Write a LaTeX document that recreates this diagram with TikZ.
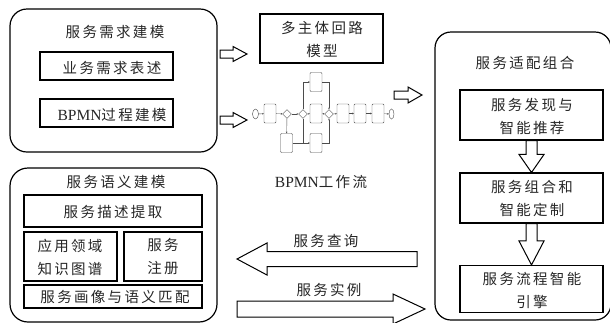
\documentclass[tikz,border=0pt]{standalone}
\usepackage{fontspec}
\setmainfont{Liberation Serif}
\newfontfamily\cjk[LetterSpace=16]{Noto Sans CJK SC}
\usetikzlibrary{calc,shapes.geometric,arrows.meta}
\newcommand\latn[1]{{\rmfamily\fontsize{15.5}{23}\selectfont #1}}
% #1 start, #2 tip, #3 shaft half width, #4 head half width, #5 head length
\newcommand\hollowarrow[5]{%
  \draw[blockarrow] ($(#1)!#3!90:(#2)$)
    -- ($($(#2)!#5!(#1)$)!#3!90:(#2)$)
    -- ($($(#2)!#5!(#1)$)!#4!90:(#2)$)
    -- (#2)
    -- ($($(#2)!#5!(#1)$)!#4!-90:(#2)$)
    -- ($($(#2)!#5!(#1)$)!#3!-90:(#2)$)
    -- ($(#1)!#3!-90:(#2)$) -- cycle;}
\begin{document}
\begin{tikzpicture}[x=1pt,y=-1pt,
  bigbox/.style={draw, rounded corners=17pt, line width=1.2pt, inner sep=0pt},
  inbox/.style={draw, line width=1.1pt, inner sep=0pt},
  lbl/.style={font={\fontsize{14.5}{23}\cjk}, align=center, inner sep=0pt, text=black!85},
  blockarrow/.style={draw, line width=1pt, fill=white, line join=miter},
  task/.style={draw=black!70, line width=0.4pt, rounded corners=1pt, minimum width=12pt, minimum height=19pt, inner sep=0pt},
  gate/.style={draw=black!70, line width=0.4pt, diamond, minimum width=9pt, minimum height=9pt, inner sep=0pt},
  ev/.style={draw=black!70, line width=0.4pt, ellipse, minimum width=6pt, minimum height=10pt, inner sep=0pt},
  flow/.style={draw=black!70, line width=0.4pt, -{Stealth[length=1.6pt,width=1.6pt]}},
  plain/.style={draw=black!70, line width=0.4pt}]
\useasboundingbox (0,0) rectangle (610,322);
\clip (0,0) rectangle (610,322);

% ---------- top-left: service requirement modelling
\node[bigbox, minimum width=207pt, minimum height=143pt] (req) at (113.5,80.5) {};
\node[lbl] (reqt) at (115,32) {服务需求建模};
\node[inbox, minimum width=133pt, minimum height=28pt] (desc) at (106.5,66) {};
\node[lbl] (desct) at (112,68) {业务需求表述};
\node[inbox, minimum width=133pt, minimum height=28pt] (bpmn) at (106.5,113) {};
\node[lbl] (bpmnt) at (112,115) {\latn{BPMN}过程建模};

% ---------- multi-agent loop model
\node[draw, line width=2pt, minimum width=123pt, minimum height=49pt, inner sep=0pt] (loop) at (321.5,38.5) {};
\node[lbl] (loopt) at (322,39) {多主体回路\\模型};

% ---------- BPMN mini workflow
\node[ev] (st) at (255.5,114) {};
\node[task] (t1) at (270,113.5) {};
\node[gate] (g1) at (287,114) {};
\node[gate] (g2) at (303,114) {};
\node[task] (ta) at (316,82) {};
\node[task] (tb) at (316,113.5) {};
\node[task] (tc) at (316,143) {};
\node[task] (tl) at (286.5,143) {};
\node[gate] (g3) at (329,114) {};
\node[task] (t5) at (343,113.5) {};
\node[task] (t6) at (360,113.5) {};
\node[task] (t7) at (378,113.5) {};
\node[ev, minimum width=5pt] (en) at (391.5,114) {};
\draw[flow] (st) -- (t1);
\draw[flow] (t1) -- (g1);
\draw[flow] (g1) -- (g2);
\draw[flow] (g2) |- (ta);
\draw[flow] (g2) -- (tb);
\draw[flow] (g2) |- (tc);
\draw[flow] (g1) -- (tl);
\draw[plain] (tl.east) -- (tl.east -| g2);
\draw[flow] (ta) -| (g3);
\draw[flow] (tb) -- (g3);
\draw[flow] (tc) -| (g3);
\draw[flow] (g3) -- (t5);
\draw[flow] (t5) -- (t6);
\draw[flow] (t6) -- (t7);
\draw[flow] (t7) -- (en);
\node[lbl] (bpmnlbl) at (321,182) {\latn{BPMN}工作流};

% ---------- right: service adaptation & composition
\node[bigbox, rounded corners=16pt, minimum width=176pt, minimum height=288pt] (adp) at (523,176) {};
\node[lbl] (adpt) at (525,63) {服务适配组合};
\node[inbox, minimum width=143pt, minimum height=50pt] (f1) at (531.5,115) {};
\node[lbl] (f1t) at (532,116) {服务发现与\\智能推荐};
\node[inbox, minimum width=143pt, minimum height=50pt] (f2) at (531.5,198) {};
\node[lbl] (f2t) at (532,198.5) {服务组合和\\智能定制};
\node[inbox, minimum width=143pt, minimum height=47pt] (f3) at (531.5,289) {};
\node[lbl] (f3t) at (532,290) {服务流程智能\\引擎};

% ---------- bottom-left: service semantic modelling
\node[bigbox, rounded corners=18pt, minimum width=207pt, minimum height=154pt] (sem) at (113.5,245) {};
\node[lbl] (semt) at (116,182) {服务语义建模};
\node[inbox, minimum width=178pt, minimum height=32pt] (s1) at (113,211) {};
\node[lbl] (s1t) at (113,212) {服务描述提取};
\node[inbox, minimum width=93pt, minimum height=49pt] (s2) at (70.5,256.5) {};
\node[lbl] (s2t) at (70,257) {应用领域\\知识图谱};
\node[inbox, minimum width=78pt, minimum height=49pt] (s3) at (163,256.5) {};
\node[lbl] (s3t) at (163,257) {服务\\注册};
\node[inbox, minimum width=178pt, minimum height=23pt] (s4) at (113,296.5) {};
\node[lbl] (s4t) at (115,297) {服务画像与语义匹配};

% ---------- block arrows
\coordinate (a1s) at (220,54);  \coordinate (a1e) at (247,54);
\coordinate (a2s) at (220,120); \coordinate (a2e) at (247,120);
\coordinate (a3s) at (394,95);  \coordinate (a3e) at (422,95);
\coordinate (d1s) at (f1.south); \coordinate (d1e) at (f2.north);
\coordinate (d2s) at (f2.south); \coordinate (d2e) at (f3.north);
\coordinate (qs) at (417,259);  \coordinate (qe) at (237,259);
\coordinate (is) at (237,309);  \coordinate (ie) at (425,309);
\hollowarrow{a1s}{a1e}{4pt}{7.5pt}{14pt}
\hollowarrow{a2s}{a2e}{4pt}{7.5pt}{14pt}
\hollowarrow{a3s}{a3e}{4pt}{8pt}{14pt}
\hollowarrow{d1s}{d1e}{5.5pt}{12.5pt}{18pt}
\hollowarrow{d2s}{d2e}{5.5pt}{12.5pt}{24pt}
\hollowarrow{qs}{qe}{7.5pt}{16pt}{30pt}
\hollowarrow{is}{ie}{8pt}{15pt}{32pt}
\node[lbl] (qt) at (326,241) {服务查询};
\node[lbl] (it) at (329,290) {服务实例};
\end{tikzpicture}
\end{document}
